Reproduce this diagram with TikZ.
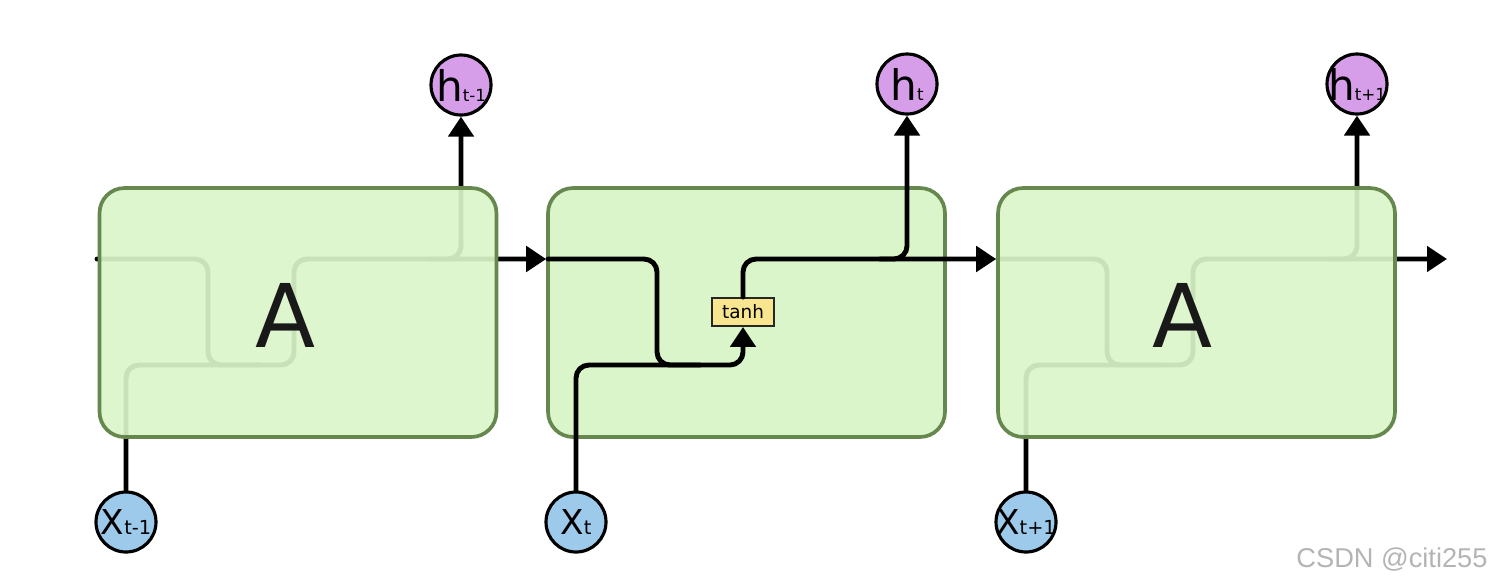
\documentclass[tikz,border=0pt]{standalone}
\usepackage{fontspec}
\setmainfont{DejaVu Sans}
\newfontfamily\wmfont{Liberation Sans}
\usetikzlibrary{arrows.meta}
\definecolor{boxfill}{HTML}{DAF5C9}
\definecolor{boxedge}{HTML}{66874E}
\definecolor{hfill}{HTML}{D69EE8}
\definecolor{xfill}{HTML}{9DC9EB}
\definecolor{tanhfill}{HTML}{F7E58F}
\definecolor{wmgray}{HTML}{B4B4B4}
\begin{document}
\begin{tikzpicture}[x=0.02cm,y=-0.02cm,
  wire/.style={line width=2.8pt, rounded corners=0.26cm, line cap=round},
  arr/.style={wire, -{Triangle[length=0.4cm,width=0.5cm]}},
  cell/.style={draw=boxedge, line width=2.1pt, fill=boxfill, rounded corners=0.5cm,
    minimum width=7.94cm, minimum height=4.98cm, inner sep=0pt},
  fadedcell/.style={cell, fill opacity=0.92},
  bigA/.style={inner sep=0pt, font=\fontsize{50}{60}\selectfont, text=black!90},
  hcirc/.style={circle, draw=black, line width=1.8pt, fill=hfill, minimum size=1.2cm, inner sep=0pt},
  xcirc/.style={circle, draw=black, line width=1.8pt, fill=xfill, minimum size=1.2cm, inner sep=0pt},
  tanhbox/.style={draw=black!85, line width=1.1pt, fill=tanhfill, minimum width=1.24cm,
    minimum height=0.56cm, inner sep=0pt, font=\fontsize{10.5}{12}\selectfont},
  wm/.style={font=\wmfont\fontsize{15.5}{18}\selectfont, text=wmgray, inner sep=0pt}
]
\useasboundingbox (0,0) rectangle (1500,586);

% output / input circles
\node[hcirc] (hL) at (461,85) {\makebox[0pt]{\fontsize{24}{24}\selectfont h\fontsize{9.5}{10}\selectfont t-1}};
\node[hcirc] (hM) at (907,84) {\makebox[0pt]{\fontsize{24}{24}\selectfont h\fontsize{9.5}{10}\selectfont t}};
\node[hcirc] (hR) at (1357,84) {\makebox[0pt]{\fontsize{24}{24}\selectfont h\fontsize{9.5}{10}\selectfont t+1}};
\node[xcirc] (xL) at (126,522) {\makebox[0pt]{\fontsize{19.5}{20}\selectfont X\fontsize{11}{11}\selectfont t-1}};
\node[xcirc] (xM) at (576,522) {\makebox[0pt]{\fontsize{19.5}{20}\selectfont X\fontsize{11}{11}\selectfont t}};
\node[xcirc] (xR) at (1026,522) {\makebox[0pt]{\fontsize{19.5}{20}\selectfont X\fontsize{11}{11}\selectfont t+1}};

% middle cell (opaque), drawn first
\node[cell] (cellM) at (746.5,312.5) {};

% ---------- left cell: hidden wiring, then translucent box ----------
\coordinate (inL) at (97,259);
\coordinate (dL) at (208,259);
\coordinate (tLb) at (294,330);
\coordinate (tLt) at (294,298);
\coordinate (jLa) at (430,259);
\coordinate (jL) at (461,259);
\draw[wire] (inL) -- (dL) -- (208,365) -- (260,365);
\draw[wire] (xL) -- (126,365) -- (294,365) -- (tLb);
\draw[arr] (tLt) |- (cellM.west |- jL);
\draw[arr] (jLa) -- (jL) -- (hL);
\node[fadedcell] (cellL) at (298,312.5) {};
\node[bigA] (AL) at (285.5,315.5) {A};

% ---------- right cell: hidden wiring, then translucent box ----------
\coordinate (inR) at (998,259);
\coordinate (dR) at (1107,259);
\coordinate (tRb) at (1193,330);
\coordinate (tRt) at (1193,298);
\coordinate (jRa) at (1330,259);
\coordinate (jR) at (1357,259);
\coordinate (outR) at (1447,259);
\draw[wire] (inR) -- (dR) -- (1107,365) -- (1160,365);
\draw[wire] (xR) -- (1026,365) -- (1193,365) -- (tRb);
\draw[arr] (tRt) |- (outR);
\draw[arr] (jRa) -- (jR) -- (hR);
\node[fadedcell] (cellR) at (1196.5,312.5) {};
\node[bigA] (AR) at (1183,315) {A};

% ---------- middle cell wiring ----------
\node[tanhbox] (tanhM) at (743,312) {tanh};
\coordinate (inM) at (548,259);
\coordinate (dM) at (657,259);
\coordinate (jMa) at (880,259);
\coordinate (jM) at (907,259);
\draw[wire] (inM) -- (dM) -- (657,365) -- (700,365);
\draw[arr] (xM) -- (576,365) -- (743,365) -- (tanhM);
\draw[arr] (tanhM) |- (cellR.west |- jM);
\draw[arr] (jMa) -- (jM) -- (hM);

% watermark
\node[wm] (wmark) at (1392,559) {CSDN @citi255};
\end{tikzpicture}
\end{document}
